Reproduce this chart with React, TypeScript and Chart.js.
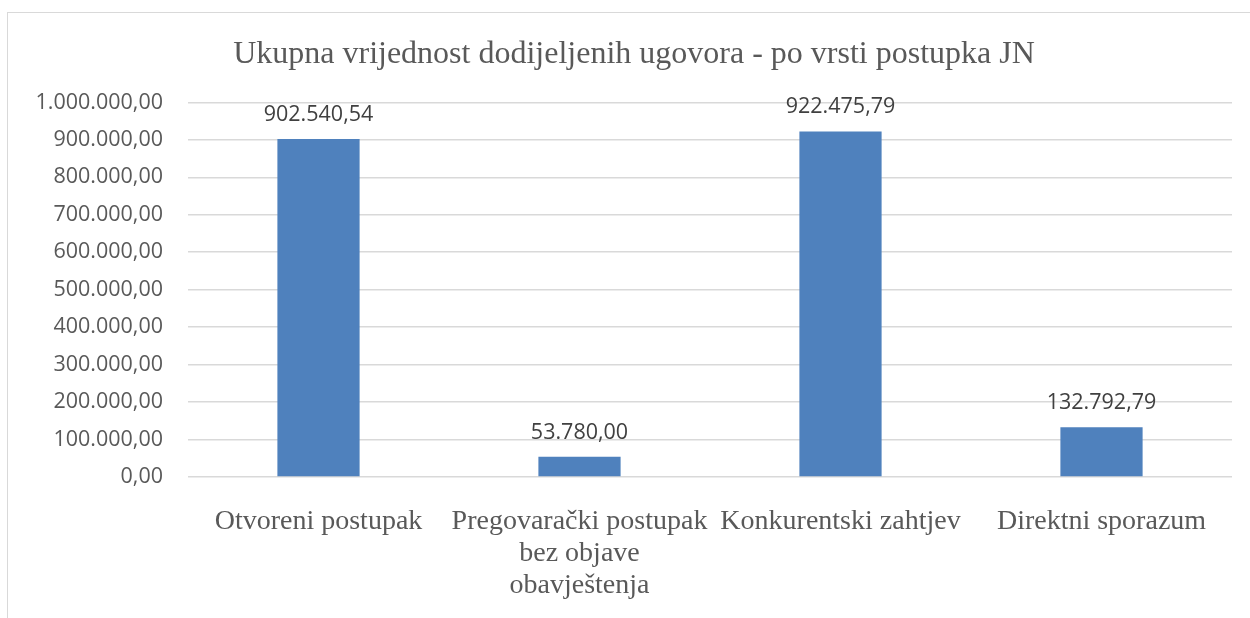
import React, { useEffect, useRef } from "react";
import { Chart, registerables } from "chart.js";

Chart.register(...registerables);

const categories: (string | string[])[] = [
  "Otvoreni postupak",
  ["Pregovarački postupak", "bez objave", "obavještenja"],
  "Konkurentski zahtjev",
  "Direktni sporazum",
];
const values: number[] = [902540.54, 53780.0, 922475.79, 132792.79];
const yMin = 0;
const yMax = 1000000;
const yStep = 100000;
const titleText = "Ukupna vrijednost dodijeljenih ugovora - po vrsti postupka JN";

function fmt(v: number): string {
  const [intPart, dec] = Math.abs(v).toFixed(2).split(".");
  const withDots = intPart.replace(/\B(?=(\d{3})+(?!\d))/g, ".");
  return (v < 0 ? "-" : "") + withDots + "," + dec;
}

const dataLabelPlugin = {
  id: "dataLabels",
  afterDatasetsDraw(chart: any) {
    const ctx = chart.ctx;
    const meta = chart.getDatasetMeta(0);
    ctx.save();
    ctx.font = "21.5px 'Open Sans'";
    ctx.fillStyle = "#404040";
    ctx.textAlign = "center";
    ctx.textBaseline = "alphabetic";
    meta.data.forEach((el: any, i: number) => {
      const v = chart.data.datasets[0].data[i];
      ctx.fillText(fmt(v), el.x, el.y - 18);
    });
    ctx.restore();
  },
};

export default function App() {
  const ref = useRef<HTMLCanvasElement | null>(null);
  useEffect(() => {
    if (!ref.current) return;
    const chart = new Chart(ref.current, {
      type: "bar",
      data: {
        labels: categories,
        datasets: [
          {
            data: values,
            backgroundColor: "#4F81BD",
            borderWidth: 0,
            categoryPercentage: 1,
            barPercentage: 0.315,
          },
        ],
      },
      options: {
        responsive: false,
        animation: false,
        devicePixelRatio: 1,
        layout: { padding: { left: 36, right: 18, top: 0, bottom: 0 } },
        plugins: {
          legend: { display: false },
          tooltip: { enabled: false },
          title: {
            display: true,
            text: titleText,
            color: "#595959",
            font: { family: "'Liberation Serif'", size: 32, weight: "normal" },
            padding: { top: 35, bottom: 29 },
          },
        },
        scales: {
          x: {
            afterFit: (scale: any) => {
              scale.height = 141;
            },
            grid: { display: false },
            border: { display: false },
            ticks: {
              color: "#595959",
              font: { family: "'Liberation Serif'", size: 28, lineHeight: 1.143 },
              maxRotation: 0,
              minRotation: 0,
              autoSkip: false,
              padding: 21,
            },
          },
          y: {
            min: yMin,
            max: yMax,
            afterFit: (scale: any) => {
              scale.width = 152;
            },
            grid: { color: "#d9d9d9", lineWidth: 1.5, drawTicks: false },
            border: { display: false },
            ticks: {
              stepSize: yStep,
              color: "#595959",
              font: { family: "'Open Sans'", size: 21.5 },
              padding: 25,
              callback: (v: any) => fmt(Number(v)),
            },
          },
        },
      },
      plugins: [dataLabelPlugin],
    });
    return () => chart.destroy();
  }, []);

  return (
    <div
      style={{
        position: "fixed",
        left: 0,
        top: 0,
        width: 1250,
        height: 618,
        overflow: "hidden",
        background: "#fff",
      }}
    >
      <div
        style={{
          position: "absolute",
          left: 7,
          top: 12,
          width: 1300,
          height: 700,
          border: "1px solid #d9d9d9",
        }}
      />
      <canvas
        ref={ref}
        width={1250}
        height={618}
        style={{ position: "absolute", left: 0, top: 0 }}
      />
    </div>
  );
}
